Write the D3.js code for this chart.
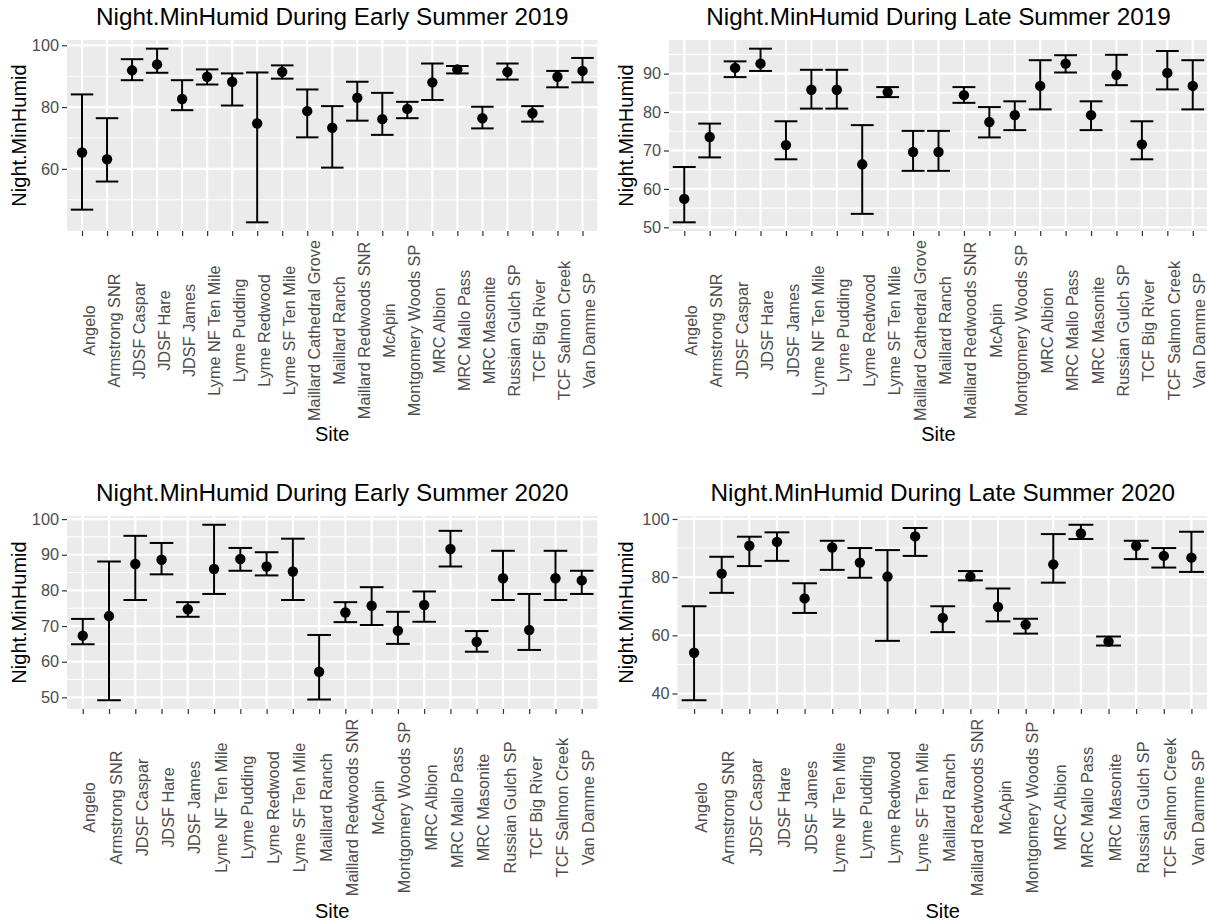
<!DOCTYPE html>
<html>
<head>
<meta charset="utf-8">
<script src="https://cdn.jsdelivr.net/npm/d3@7"></script>
<style>
  html, body { margin: 0; padding: 0; background: #ffffff; }
  svg { display: block; font-family: "Liberation Sans", Arial, sans-serif; }
</style>
</head>
<body>
<svg id="chart" width="1207" height="924"></svg>
<script>
// Sites monitored in each season
const sites2019 = ["Angelo", "Armstrong SNR", "JDSF Caspar", "JDSF Hare", "JDSF James",
  "Lyme NF Ten Mile", "Lyme Pudding", "Lyme Redwood", "Lyme SF Ten Mile",
  "Maillard Cathedral Grove", "Maillard Ranch", "Maillard Redwoods SNR", "McApin",
  "Montgomery Woods SP", "MRC Albion", "MRC Mallo Pass", "MRC Masonite",
  "Russian Gulch SP", "TCF Big River", "TCF Salmon Creek", "Van Damme SP"];
const sitesEarly2020 = ["Angelo", "Armstrong SNR", "JDSF Caspar", "JDSF Hare", "JDSF James",
  "Lyme NF Ten Mile", "Lyme Pudding", "Lyme Redwood", "Lyme SF Ten Mile",
  "Maillard Ranch", "Maillard Redwoods SNR", "McApin", "Montgomery Woods SP",
  "MRC Albion", "MRC Mallo Pass", "MRC Masonite", "Russian Gulch SP",
  "TCF Big River", "TCF Salmon Creek", "Van Damme SP"];
const sitesLate2020 = ["Angelo", "Armstrong SNR", "JDSF Caspar", "JDSF Hare", "JDSF James",
  "Lyme NF Ten Mile", "Lyme Pudding", "Lyme Redwood", "Lyme SF Ten Mile",
  "Maillard Ranch", "Maillard Redwoods SNR", "McApin", "Montgomery Woods SP",
  "MRC Albion", "MRC Mallo Pass", "MRC Masonite", "Russian Gulch SP",
  "TCF Salmon Creek", "Van Damme SP"];

// Night minimum humidity: mean with lower / upper error limits
const early2019Mean  = [65.3, 63.1, 91.9, 93.8, 82.6, 89.8, 88.2, 74.7, 91.4, 78.7, 73.3, 83.0, 76.1, 79.4, 88.0, 92.2, 76.4, 91.4, 78.0, 89.8, 91.7];
const early2019Lower = [46.8, 55.9, 88.7, 91.1, 79.0, 87.3, 80.5, 42.7, 89.2, 70.2, 60.4, 75.6, 71.0, 76.4, 82.3, 90.9, 73.1, 88.9, 75.3, 86.4, 88.0];
const early2019Upper = [84.1, 76.4, 95.5, 98.9, 88.7, 92.2, 90.9, 91.2, 93.5, 85.7, 80.3, 88.2, 84.6, 81.7, 94.1, 93.3, 80.1, 94.1, 80.3, 91.7, 95.9];

const late2019Mean  = [57.4, 73.5, 91.5, 92.6, 71.4, 85.8, 85.8, 66.4, 85.2, 69.6, 69.6, 84.4, 77.4, 79.2, 86.8, 92.6, 79.2, 89.7, 71.6, 90.2, 86.8];
const late2019Lower = [51.3, 68.2, 89.1, 90.7, 67.7, 80.9, 80.9, 53.5, 83.9, 64.7, 64.7, 82.4, 73.4, 75.3, 80.7, 90.3, 75.3, 87.0, 67.7, 85.9, 80.7];
const late2019Upper = [65.7, 77.0, 93.2, 96.5, 77.6, 91.0, 91.0, 76.6, 86.5, 75.1, 75.1, 86.5, 81.3, 82.8, 93.5, 94.8, 82.8, 94.9, 77.6, 95.9, 93.5];

const early2020Mean  = [67.3, 72.8, 87.4, 88.6, 74.7, 86.0, 88.8, 86.7, 85.3, 57.2, 73.8, 75.7, 68.7, 75.9, 91.6, 65.6, 83.4, 68.9, 83.4, 82.8];
const early2020Lower = [64.9, 49.2, 77.3, 84.5, 72.6, 79.0, 85.5, 84.2, 77.3, 49.4, 71.1, 70.3, 65.0, 71.2, 86.7, 62.8, 77.3, 63.3, 77.3, 79.0];
const early2020Upper = [72.0, 88.1, 95.3, 93.3, 76.7, 98.4, 91.9, 90.7, 94.5, 67.5, 76.7, 80.9, 74.0, 79.7, 96.7, 68.6, 91.1, 79.0, 91.1, 85.5];

const late2020Mean  = [54.0, 81.2, 90.8, 92.1, 72.7, 90.2, 85.0, 80.2, 94.0, 66.0, 80.2, 69.8, 63.7, 84.4, 95.0, 57.9, 90.8, 87.3, 86.7];
const late2020Lower = [37.7, 74.6, 83.8, 85.6, 67.7, 82.5, 79.8, 58.1, 87.3, 61.1, 78.9, 64.8, 60.6, 78.1, 93.1, 56.5, 86.2, 83.3, 81.8];
const late2020Upper = [70.0, 87.0, 93.9, 95.4, 77.9, 92.5, 90.0, 89.3, 96.9, 70.0, 82.1, 76.1, 65.7, 94.8, 98.0, 59.6, 92.5, 90.0, 95.6];

// Y-axis tick values for each panel
const ticksEarly2019 = [60, 80, 100];
const ticksLate2019 = [50, 60, 70, 80, 90];
const ticksEarly2020 = [50, 60, 70, 80, 90, 100];
const ticksLate2020 = [40, 60, 80, 100];

const titles = [
  "Night.MinHumid During Early Summer 2019",
  "Night.MinHumid During Late Summer 2019",
  "Night.MinHumid During Early Summer 2020",
  "Night.MinHumid During Late Summer 2020"
];
const yTitle = "Night.MinHumid";
const xTitle = "Site";

// Panel geometry (plot area, title and label rows)
const layout = [
  { x0: 67,    x1: 597.5, y0: 40,  y1: 231, yTitleX: 19,  titleY: 25,  labelMidY: 330.5, xTitleY: 441 },
  { x0: 669,   x1: 1208,  y0: 40,  y1: 231, yTitleX: 626, titleY: 25,  labelMidY: 330.5, xTitleY: 441 },
  { x0: 67,    x1: 597.5, y0: 516, y1: 709, yTitleX: 19,  titleY: 501, labelMidY: 807.5, xTitleY: 918 },
  { x0: 677.5, x1: 1208,  y0: 516, y1: 709, yTitleX: 626, titleY: 501, labelMidY: 807.5, xTitleY: 918 }
];

const panels = [
  { sites: sites2019,      mean: early2019Mean, lower: early2019Lower, upper: early2019Upper, ticks: ticksEarly2019 },
  { sites: sites2019,      mean: late2019Mean,  lower: late2019Lower,  upper: late2019Upper,  ticks: ticksLate2019 },
  { sites: sitesEarly2020, mean: early2020Mean, lower: early2020Lower, upper: early2020Upper, ticks: ticksEarly2020 },
  { sites: sitesLate2020,  mean: late2020Mean,  lower: late2020Lower,  upper: late2020Upper,  ticks: ticksLate2020 }
];

const svg = d3.select("#chart");
const TICK_FONT = 16.3, AXIS_TITLE_FONT = 20, TITLE_FONT = 24.3;

panels.forEach((p, i) => {
  const L = layout[i];
  const g = svg.append("g");
  const rows = p.sites.map((s, k) => ({ site: s, mean: p.mean[k], lo: p.lower[k], hi: p.upper[k] }));

  // y domain with 5% expansion on each side
  const lo = d3.min(rows, d => d.lo), hi = d3.max(rows, d => d.hi);
  const pad = (hi - lo) * 0.05;
  const y = d3.scaleLinear().domain([lo - pad, hi + pad]).range([L.y1, L.y0]);
  const x = d3.scalePoint().domain(p.sites).range([L.x0, L.x1]).padding(0.6);
  const step = x.step();

  // panel background
  g.append("rect")
    .attr("x", L.x0).attr("y", L.y0)
    .attr("width", L.x1 - L.x0).attr("height", L.y1 - L.y0)
    .attr("fill", "#EBEBEB");

  // minor horizontal gridlines halfway between major ticks
  const tStep = p.ticks[1] - p.ticks[0];
  const minor = [];
  for (let v = p.ticks[0] - tStep / 2; v <= p.ticks[p.ticks.length - 1] + tStep / 2; v += tStep) {
    if (v >= y.domain()[0] && v <= y.domain()[1]) minor.push(v);
  }
  g.selectAll(".minor").data(minor).join("line")
    .attr("x1", L.x0).attr("x2", L.x1)
    .attr("y1", d => y(d)).attr("y2", d => y(d))
    .attr("stroke", "#ffffff").attr("stroke-width", 1.1);

  // major gridlines
  g.selectAll(".hmajor").data(p.ticks).join("line")
    .attr("x1", L.x0).attr("x2", L.x1)
    .attr("y1", d => y(d)).attr("y2", d => y(d))
    .attr("stroke", "#ffffff").attr("stroke-width", 2.2);
  g.selectAll(".vmajor").data(p.sites).join("line")
    .attr("x1", d => x(d)).attr("x2", d => x(d))
    .attr("y1", L.y0).attr("y2", L.y1)
    .attr("stroke", "#ffffff").attr("stroke-width", 2.2);

  // error bars
  const capHalf = step * 0.45;
  const bars = g.selectAll(".bar").data(rows).join("g");
  bars.append("line")
    .attr("x1", d => x(d.site)).attr("x2", d => x(d.site))
    .attr("y1", d => y(d.lo)).attr("y2", d => y(d.hi))
    .attr("stroke", "#000").attr("stroke-width", 2);
  bars.append("line")
    .attr("x1", d => x(d.site) - capHalf).attr("x2", d => x(d.site) + capHalf)
    .attr("y1", d => y(d.lo)).attr("y2", d => y(d.lo))
    .attr("stroke", "#000").attr("stroke-width", 2);
  bars.append("line")
    .attr("x1", d => x(d.site) - capHalf).attr("x2", d => x(d.site) + capHalf)
    .attr("y1", d => y(d.hi)).attr("y2", d => y(d.hi))
    .attr("stroke", "#000").attr("stroke-width", 2);

  // mean points
  g.selectAll(".pt").data(rows).join("circle")
    .attr("cx", d => x(d.site)).attr("cy", d => y(d.mean))
    .attr("r", 5.2).attr("fill", "#000");

  // y axis
  const yAxis = g.append("g")
    .attr("transform", `translate(${L.x0},0)`)
    .call(d3.axisLeft(y).tickValues(p.ticks).tickSize(5).tickPadding(3));
  yAxis.select(".domain").remove();
  yAxis.selectAll(".tick line").attr("stroke", "#333333").attr("stroke-width", 1.2);
  yAxis.selectAll(".tick text")
    .attr("fill", "#4D4D4D").style("font-size", TICK_FONT + "px")
    .style("font-family", "'Liberation Sans', Arial, sans-serif");

  // x axis
  const xAxis = g.append("g")
    .attr("transform", `translate(0,${L.y1})`)
    .call(d3.axisBottom(x).tickSize(5).tickPadding(0));
  xAxis.select(".domain").remove();
  xAxis.selectAll(".tick line").attr("stroke", "#333333").attr("stroke-width", 1.2);
  xAxis.selectAll(".tick text")
    .attr("fill", "#4D4D4D").style("font-size", TICK_FONT + "px")
    .style("font-family", "'Liberation Sans', Arial, sans-serif")
    .attr("text-anchor", "middle")
    .attr("x", 0).attr("y", 0).attr("dy", "0.74em")
    .attr("transform", `translate(0,${L.labelMidY - L.y1}) rotate(-90)`);

  // titles
  g.append("text")
    .attr("x", (L.x0 + L.x1) / 2).attr("y", L.titleY)
    .attr("text-anchor", "middle").attr("fill", "#000")
    .style("font-size", TITLE_FONT + "px")
    .text(titles[i]);
  g.append("text")
    .attr("transform", `translate(${L.yTitleX},${(L.y0 + L.y1) / 2}) rotate(-90)`)
    .attr("text-anchor", "middle").attr("dominant-baseline", "central")
    .attr("fill", "#000").style("font-size", AXIS_TITLE_FONT + "px")
    .text(yTitle);
  g.append("text")
    .attr("x", (L.x0 + L.x1) / 2).attr("y", L.xTitleY)
    .attr("text-anchor", "middle").attr("fill", "#000")
    .style("font-size", AXIS_TITLE_FONT + "px")
    .text(xTitle);
});
</script>
</body>
</html>
